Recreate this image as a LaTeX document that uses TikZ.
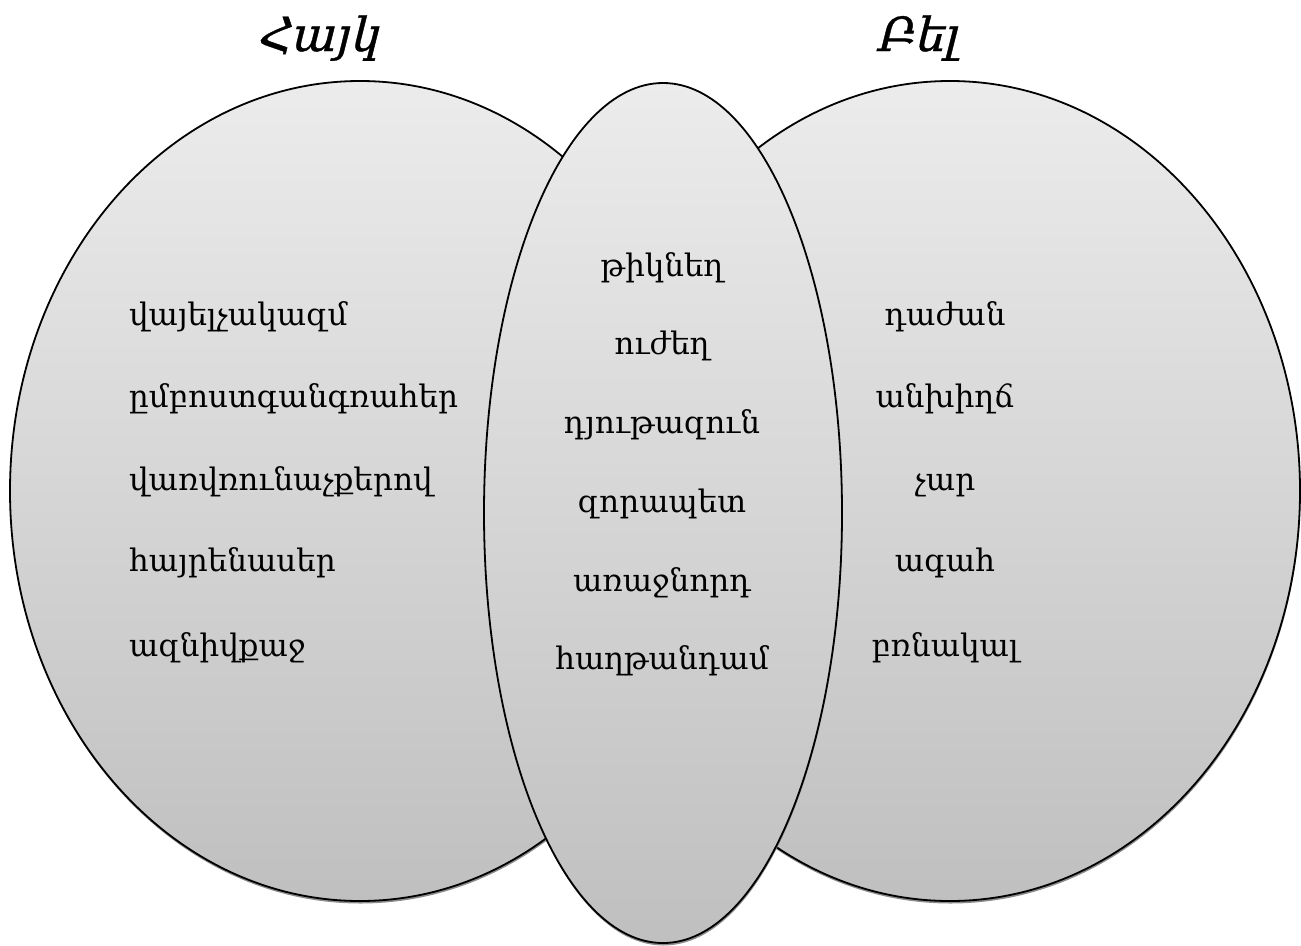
\documentclass[tikz,border=0pt]{standalone}
\usepackage{fontspec}
\setmainfont{DejaVu Serif}
\newfontfamily\titlefont[FakeSlant=0.25,FakeBold=0.8]{DejaVu Serif}
\usetikzlibrary{shapes.geometric,shadows}
\begin{document}
\begin{tikzpicture}[x=1pt,y=-1pt,
  bubble/.style={ellipse, draw=black, line width=1.8pt, inner sep=0pt,
    top color=gray!15, bottom color=gray!50,
    drop shadow={shadow xshift=0.5pt, shadow yshift=-2.5pt, fill=black!45, opacity=1}},
  word/.style={font=\fontsize{31}{37}\selectfont, inner sep=0pt, text height=0.75em, text depth=0.25em},
  ttl/.style={font=\titlefont\fontsize{47}{56}\selectfont, inner sep=0pt, anchor=base}]
\useasboundingbox (0,0) rectangle (1301,945);
\node[bubble, minimum width=700pt, minimum height=820pt] (L) at (360,491) {};
\node[bubble, minimum width=700pt, minimum height=820pt] (R) at (950,491) {};
\node[bubble, minimum width=358pt, minimum height=860pt] (M) at (663,513) {};
\node[ttl] (tL) at (317,51) {Հայկ};
\node[ttl] (tR) at (916,51) {Բել};
\node[word, anchor=west] (l1) at (129,323) {վայելչակազմ};
\node[word, anchor=west] (l2) at (129,405) {ըմբոստգանգռահեր};
\node[word, anchor=west] (l3) at (129,488) {վառվռունաչքերով};
\node[word, anchor=west] (l4) at (129,569) {հայրենասեր};
\node[word, anchor=west] (l5) at (129,654) {ազնիվքաջ};
\node[word] (m1) at (662,274) {թիկնեղ};
\node[word] (m2) at (662,352) {ուժեղ};
\node[word] (m3) at (662,431) {դյութազուն};
\node[word] (m4) at (662,510) {զորապետ};
\node[word] (m5) at (662,589) {առաջնորդ};
\node[word] (m6) at (662,667) {հաղթանդամ};
\node[word] (r1) at (945,323) {դաժան};
\node[word] (r2) at (945,405) {անխիղճ};
\node[word] (r3) at (945,488) {չար};
\node[word] (r4) at (945,569) {ագահ};
\node[word] (r5) at (945,654) {բռնակալ};
\end{tikzpicture}
\end{document}
